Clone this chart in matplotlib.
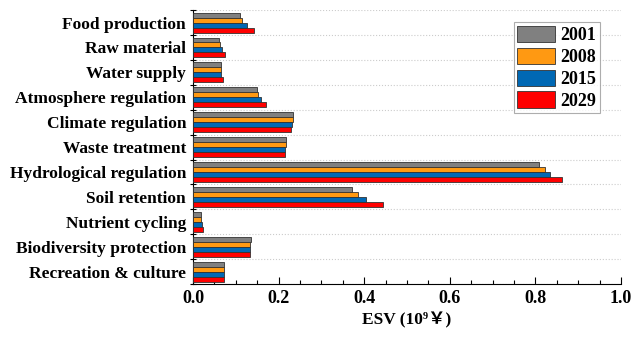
import numpy as np
import matplotlib
matplotlib.use("Agg")
import matplotlib.pyplot as plt
from matplotlib.ticker import FixedLocator

plt.rcParams["font.family"] = ["Liberation Serif", "Noto Sans CJK SC"]
plt.rcParams["font.weight"] = "bold"

categories = [
    "Food production", "Raw material", "Water supply", "Atmosphere regulation",
    "Climate regulation", "Waste treatment", "Hydrological regulation",
    "Soil retention", "Nutrient cycling", "Biodiversity protection",
    "Recreation & culture",
]
years = ["2001", "2008", "2015", "2029"]
colors = ["#808080", "#FF9912", "#0068B4", "#FF0000"]

esv_2001 = [0.109, 0.060, 0.065, 0.150, 0.234, 0.217, 0.808, 0.371, 0.019, 0.135, 0.073]
esv_2008 = [0.115, 0.062, 0.065, 0.153, 0.233, 0.217, 0.822, 0.385, 0.019, 0.134, 0.073]
esv_2015 = [0.125, 0.067, 0.066, 0.159, 0.231, 0.216, 0.833, 0.404, 0.021, 0.132, 0.073]
esv_2029 = [0.143, 0.074, 0.069, 0.170, 0.228, 0.216, 0.861, 0.443, 0.023, 0.132, 0.073]
series = [esv_2001, esv_2008, esv_2015, esv_2029]

xticks = [0.0, 0.2, 0.4, 0.6, 0.8, 1.0]

fig = plt.figure(figsize=(6.44, 3.37), dpi=100)
ax = fig.add_axes([0.2997, 0.157, 0.6646, 0.813])

y = np.arange(len(categories))
h = 0.2
for k, (vals, yr, c) in enumerate(zip(series, years, colors)):
    ax.barh(y - 0.3 + k * h, vals, height=h, color=c, edgecolor="#333333",
            linewidth=0.6, label=yr, zorder=3)

ax.set_ylim(len(categories) - 0.5, -0.5)
ax.set_xlim(0, 1.0)

ax.set_yticks(y)
ax.set_yticklabels(categories, fontsize=12.5, fontweight="bold")
ax.yaxis.set_minor_locator(FixedLocator(np.arange(-0.5, len(categories), 1.0)))
ax.tick_params(axis="y", which="major", length=0, pad=5)
ax.tick_params(axis="y", which="minor", direction="inout", length=5, width=0.8)

ax.set_xticks(xticks)
ax.set_xticklabels([f"{v:.1f}" for v in xticks], fontsize=13, fontweight="bold")
ax.xaxis.set_minor_locator(FixedLocator(np.arange(0, 1.001, 0.05)))
ax.tick_params(axis="x", which="major", direction="in", length=5, width=0.8, pad=4)
ax.tick_params(axis="x", which="minor", direction="in", length=3, width=0.8)

ax.grid(axis="y", which="minor", linestyle=":", color="#cccccc", linewidth=0.8, zorder=0)
ax.spines["top"].set_visible(False)
ax.spines["right"].set_visible(False)

ax.set_xlabel("ESV (10\u2079\uffe5)", fontsize=12.5, fontweight="bold", labelpad=4)

leg = ax.legend(loc="upper right", bbox_to_anchor=(0.951, 0.956),
                prop={"weight": "bold", "size": 13}, fancybox=False, edgecolor="#999999",
                handlelength=2.1, handleheight=1.0, handletextpad=0.3,
                labelspacing=0.2, borderpad=0.2, borderaxespad=0)
leg.get_frame().set_linewidth(0.8)

fig.savefig("out.png", dpi=100)
